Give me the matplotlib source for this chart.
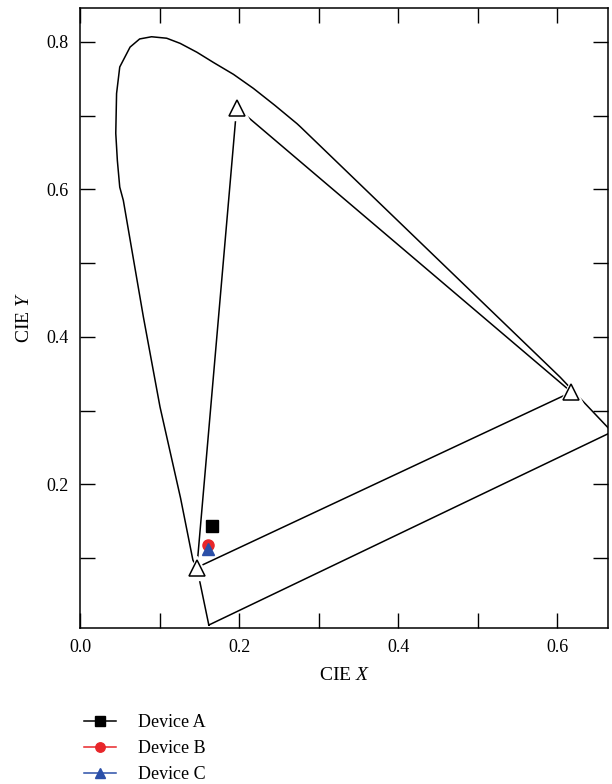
import matplotlib

matplotlib.use("Agg")
import matplotlib.pyplot as plt
from matplotlib.ticker import MultipleLocator

plt.rcParams["font.family"] = ["Liberation Serif", "DejaVu Serif"]
plt.rcParams["mathtext.fontset"] = "custom"
plt.rcParams["mathtext.it"] = "Liberation Serif:italic"
plt.rcParams["mathtext.rm"] = "Liberation Serif"

# spectral locus, closed by the purple line
locus_x = [0.162, 0.147, 0.142, 0.1265, 0.1006, 0.0797, 0.0545, 0.050, 0.047,
           0.045, 0.046, 0.050, 0.063, 0.075, 0.090, 0.109, 0.126, 0.147, 0.168,
           0.193, 0.218, 0.245, 0.273, 0.277, 0.604, 0.618, 0.669, 0.162]
locus_y = [0.009, 0.087, 0.097, 0.181, 0.305, 0.427, 0.585, 0.603, 0.639,
           0.676, 0.730, 0.766, 0.793, 0.804, 0.807, 0.805, 0.798, 0.786, 0.772,
           0.756, 0.737, 0.714, 0.689, 0.685, 0.345, 0.329, 0.271, 0.009]

# colour gamut triangle
tri_x = [0.197, 0.618, 0.147]
tri_y = [0.711, 0.325, 0.087]

devices = ["Device A", "Device B", "Device C"]
dev_x = [0.166, 0.161, 0.161]
dev_y = [0.143, 0.117, 0.112]
dev_colors = ["black", "#e8262a", "#2b4fa8"]
dev_markers = ["s", "o", "^"]

fig = plt.figure(figsize=(6.12, 7.84), dpi=100)
ax = fig.add_axes([0.1307, 0.199, 0.8628, 0.7908])

ax.plot(locus_x, locus_y, color="black", lw=1.1, zorder=1, solid_joinstyle="round")
ax.plot(tri_x + tri_x[:1], tri_y + tri_y[:1], color="black", lw=1.1, zorder=1)
ax.plot(tri_x, tri_y, ls="none", marker="^", ms=17, mfc="white", mec="white", zorder=2)
ax.plot(tri_x, tri_y, ls="none", marker="^", ms=11, mfc="white", mec="black", mew=1.1, zorder=3)

handles = []
for name, x, y, c, m in zip(devices, dev_x, dev_y, dev_colors, dev_markers):
    h, = ax.plot([x], [y], ls="-", color=c, marker=m, ms=8, lw=1.1, label=name, zorder=4)
    handles.append(h)

ax.set_xlim(0.0, 0.664)
ax.set_ylim(0.005, 0.846)
ax.xaxis.set_major_locator(MultipleLocator(0.2))
ax.xaxis.set_minor_locator(MultipleLocator(0.1))
ax.yaxis.set_major_locator(MultipleLocator(0.2))
ax.yaxis.set_minor_locator(MultipleLocator(0.1))
ax.xaxis.set_major_formatter(lambda v, p: f"{v:.1f}")
ax.yaxis.set_major_formatter(lambda v, p: f"{v:.1f}")
ax.tick_params(which="both", direction="in", top=True, right=True, length=11,
               width=1, labelsize=13, pad=8)
for s in ax.spines.values():
    s.set_linewidth(1.1)
ax.set_xlabel("CIE $X$", fontsize=14, labelpad=8)
ax.set_ylabel("CIE $Y$", fontsize=14, labelpad=10)

fig.legend(handles=handles, loc="upper left", bbox_to_anchor=(0.125, 0.098),
           frameon=False, fontsize=13, handlelength=1.8, labelspacing=0.5,
           borderaxespad=0, handletextpad=1.2, markerscale=0.85)

fig.savefig("out.png", dpi=100)
